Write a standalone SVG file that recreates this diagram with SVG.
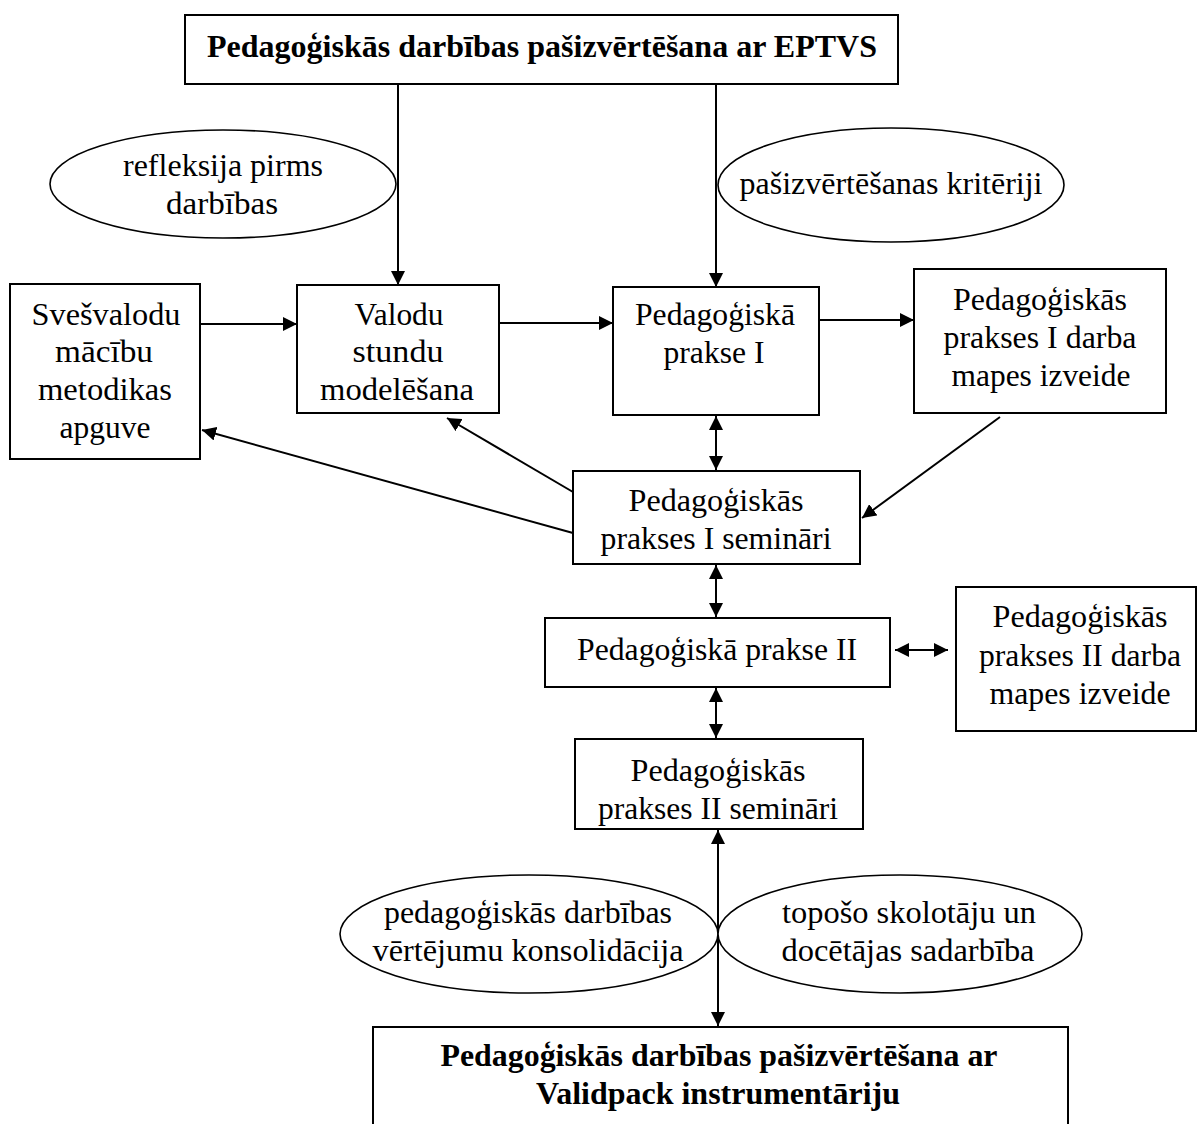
<svg xmlns="http://www.w3.org/2000/svg" width="1197" height="1124" viewBox="0 0 1197 1124">
  <style>
    .box { fill: #fff; stroke: #000; stroke-width: 2; }
    .ell { fill: #fff; stroke: #000; stroke-width: 1.6; }
    .t { font-family: "Liberation Serif", "Times New Roman", serif; font-size: 32px; fill: #000; text-anchor: middle; }
    .b { font-family: "Liberation Serif", "Times New Roman", serif; font-size: 31px; font-weight: bold; fill: #000; text-anchor: middle; }
    .c { fill: none; stroke: #000; stroke-width: 2; }
  </style>
  <defs>
    <marker id="ah" markerUnits="userSpaceOnUse" markerWidth="16" markerHeight="14" refX="14" refY="7" orient="auto-start-reverse">
      <path d="M0,0 L14,7 L0,14 Z" fill="#000"/>
    </marker>
  </defs>

  <g id="connectors">
    <line class="c" x1="398" y1="84" x2="398" y2="285" marker-end="url(#ah)"/>
    <line class="c" x1="716" y1="84" x2="716" y2="287" marker-end="url(#ah)"/>
    <line class="c" x1="200" y1="324" x2="297" y2="324" marker-end="url(#ah)"/>
    <line class="c" x1="499" y1="323" x2="613" y2="323" marker-end="url(#ah)"/>
    <line class="c" x1="819" y1="320" x2="914" y2="320" marker-end="url(#ah)"/>
    <line class="c" x1="716" y1="416" x2="716" y2="470" marker-start="url(#ah)" marker-end="url(#ah)"/>
    <line class="c" x1="1000" y1="417" x2="862" y2="518" marker-end="url(#ah)"/>
    <line class="c" x1="573" y1="492" x2="447" y2="418" marker-end="url(#ah)"/>
    <line class="c" x1="573" y1="533" x2="202" y2="430" marker-end="url(#ah)"/>
    <line class="c" x1="716" y1="565" x2="716" y2="617" marker-start="url(#ah)" marker-end="url(#ah)"/>
    <line class="c" x1="895" y1="650" x2="948" y2="650" marker-start="url(#ah)" marker-end="url(#ah)"/>
    <line class="c" x1="716" y1="688" x2="716" y2="738" marker-start="url(#ah)" marker-end="url(#ah)"/>
    <line class="c" x1="718" y1="830" x2="718" y2="1026" marker-start="url(#ah)" marker-end="url(#ah)"/>
  </g>

  <g id="top">
    <rect class="box" x="185" y="15" width="713" height="69"/>
    <text class="b" x="542" y="57" textLength="670" lengthAdjust="spacingAndGlyphs">Pedagoģiskās darbības pašizvērtēšana ar EPTVS</text>
  </g>

  <g id="reflection">
    <ellipse class="ell" cx="223" cy="184" rx="173" ry="54"/>
    <text class="t" x="223" y="176" textLength="200" lengthAdjust="spacingAndGlyphs">refleksija pirms</text>
    <text class="t" x="222" y="214" textLength="112" lengthAdjust="spacingAndGlyphs">darbības</text>
  </g>

  <g id="criteria">
    <ellipse class="ell" cx="891" cy="185" rx="173" ry="57"/>
    <text class="t" x="891" y="194" textLength="303" lengthAdjust="spacingAndGlyphs">pašizvērtēšanas kritēriji</text>
  </g>

  <g id="methods">
    <rect class="box" x="10" y="284" width="190" height="175"/>
    <text class="t" x="106" y="325" textLength="149" lengthAdjust="spacingAndGlyphs">Svešvalodu</text>
    <text class="t" x="104" y="362" textLength="98" lengthAdjust="spacingAndGlyphs">mācību</text>
    <text class="t" x="105" y="400" textLength="134" lengthAdjust="spacingAndGlyphs">metodikas</text>
    <text class="t" x="105" y="438" textLength="91" lengthAdjust="spacingAndGlyphs">apguve</text>
  </g>

  <g id="modelling">
    <rect class="box" x="297" y="285" width="202" height="128"/>
    <text class="t" x="399" y="325" textLength="89" lengthAdjust="spacingAndGlyphs">Valodu</text>
    <text class="t" x="398" y="362" textLength="91" lengthAdjust="spacingAndGlyphs">stundu</text>
    <text class="t" x="397" y="400" textLength="154" lengthAdjust="spacingAndGlyphs">modelēšana</text>
  </g>

  <g id="practice1">
    <rect class="box" x="613" y="287" width="206" height="128"/>
    <text class="t" x="715" y="325" textLength="160" lengthAdjust="spacingAndGlyphs">Pedagoģiskā</text>
    <text class="t" x="714" y="363" textLength="101" lengthAdjust="spacingAndGlyphs">prakse I</text>
  </g>

  <g id="portfolio1">
    <rect class="box" x="914" y="269" width="252" height="144"/>
    <text class="t" x="1040" y="310" textLength="174" lengthAdjust="spacingAndGlyphs">Pedagoģiskās</text>
    <text class="t" x="1040" y="348" textLength="193" lengthAdjust="spacingAndGlyphs">prakses I darba</text>
    <text class="t" x="1041" y="386" textLength="179" lengthAdjust="spacingAndGlyphs">mapes izveide</text>
  </g>

  <g id="seminars1">
    <rect class="box" x="573" y="471" width="287" height="93"/>
    <text class="t" x="716" y="511" textLength="175" lengthAdjust="spacingAndGlyphs">Pedagoģiskās</text>
    <text class="t" x="716" y="549" textLength="231" lengthAdjust="spacingAndGlyphs">prakses I semināri</text>
  </g>

  <g id="practice2">
    <rect class="box" x="545" y="618" width="345" height="69"/>
    <text class="t" x="717" y="660" textLength="280" lengthAdjust="spacingAndGlyphs">Pedagoģiskā prakse II</text>
  </g>

  <g id="portfolio2">
    <rect class="box" x="956" y="587" width="240" height="144"/>
    <text class="t" x="1080" y="627" textLength="175" lengthAdjust="spacingAndGlyphs">Pedagoģiskās</text>
    <text class="t" x="1080" y="666" textLength="202" lengthAdjust="spacingAndGlyphs">prakses II darba</text>
    <text class="t" x="1080" y="704" textLength="181" lengthAdjust="spacingAndGlyphs">mapes izveide</text>
  </g>

  <g id="seminars2">
    <rect class="box" x="575" y="739" width="288" height="90"/>
    <text class="t" x="718" y="781" textLength="175" lengthAdjust="spacingAndGlyphs">Pedagoģiskās</text>
    <text class="t" x="718" y="819" textLength="240" lengthAdjust="spacingAndGlyphs">prakses II semināri</text>
  </g>

  <g id="consolidation">
    <ellipse class="ell" cx="529" cy="934" rx="189" ry="59"/>
    <text class="t" x="528" y="923" textLength="288" lengthAdjust="spacingAndGlyphs">pedagoģiskās darbības</text>
    <text class="t" x="528" y="961" textLength="311" lengthAdjust="spacingAndGlyphs">vērtējumu konsolidācija</text>
  </g>

  <g id="cooperation">
    <ellipse class="ell" cx="900" cy="934" rx="182" ry="59"/>
    <text class="t" x="909" y="923" textLength="254" lengthAdjust="spacingAndGlyphs">topošo skolotāju un</text>
    <text class="t" x="908" y="961" textLength="253" lengthAdjust="spacingAndGlyphs">docētājas sadarbība</text>
  </g>

  <g id="bottom">
    <rect class="box" x="373" y="1027" width="695" height="110"/>
    <text class="b" x="719" y="1066" textLength="557" lengthAdjust="spacingAndGlyphs">Pedagoģiskās darbības pašizvērtēšana ar</text>
    <text class="b" x="718" y="1104" textLength="364" lengthAdjust="spacingAndGlyphs">Validpack instrumentāriju</text>
  </g>
</svg>
